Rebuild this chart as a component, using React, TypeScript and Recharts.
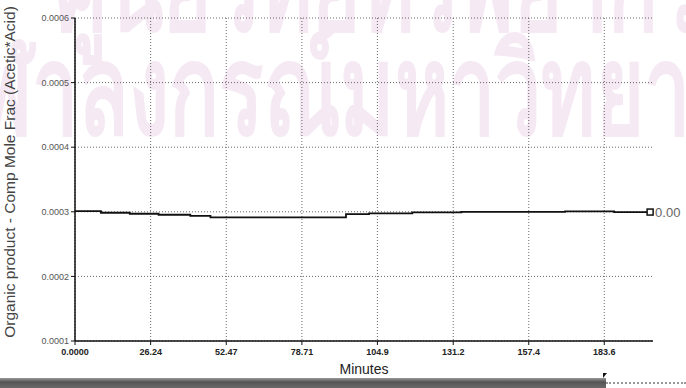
import React from 'react';
import { LineChart, Line, XAxis, YAxis, CartesianGrid } from 'recharts';

// time (min) where each step of the trace starts
const minutes = [0, 9, 19, 29, 40, 47, 94, 102, 117, 134, 170, 187, 199.5];
// organic product mole fraction (acetic acid)
const moleFrac = [
  0.000301, 0.0002985, 0.000297, 0.0002954, 0.0002938, 0.0002915, 0.0002965,
  0.0002975, 0.000299, 0.0003, 0.0003008, 0.0002996, 0.0002996,
];
const xTicks = [0, 26.24, 52.47, 78.71, 104.9, 131.2, 157.4, 183.6];
const xTickLabels = ['0.0000', '26.24', '52.47', '78.71', '104.9', '131.2', '157.4', '183.6'];
const yTicks = [0.0001, 0.0002, 0.0003, 0.0004, 0.0005, 0.0006];
const endLabel = '0.00';

const data = minutes.map((m, i) => ({ t: m, v: moleFrac[i] }));

const EndDot = (props: any) => {
  const { cx, cy, index } = props;
  if (index !== data.length - 1) return <g key={`d-${index}`} />;
  return (
    <g key={`d-${index}`}>
      <rect x={cx - 3} y={cy - 3} width={6} height={6} fill="#fff" stroke="#111" strokeWidth={1.5} />
      <text x={cx + 5} y={cy + 5} fontSize={13} fill="#666" fontFamily="Liberation Sans, Arial">{endLabel}</text>
    </g>
  );
};

const SX = 0.66; // watermark horizontal squeeze

const App = () => {
  return (
    <div style={{ position: 'absolute', left: 0, top: 0, width: 686, height: 388, background: '#fff', overflow: 'hidden', fontFamily: 'Liberation Sans, Arial, sans-serif' }}>
      {/* faded scan watermark */}
      <svg width={686} height={388} style={{ position: 'absolute', left: 0, top: 0 }}>
        <g transform={`scale(${SX} 1)`} fill="#f5e9f4" fontSize={125} fontWeight={700}>
          <text x={55 / SX} y={30}>ศูนย์วิทยทรัพยากร</text>
          <text x={-72 / SX} y={134}>จุฬาลงกรณ์มหาวิทยาลัย</text>
        </g>
      </svg>
      <div style={{ position: 'absolute', left: 0, top: 0 }}>
        <LineChart width={686} height={388} data={data} margin={{ top: 18, right: 33, bottom: 0, left: 0 }}>
          <CartesianGrid stroke="#444" strokeDasharray="1 2" strokeWidth={0.8} verticalValues={xTicks} horizontalValues={yTicks} />
          <XAxis
            dataKey="t"
            type="number"
            domain={[0, 200.5]}
            ticks={xTicks}
            tickFormatter={(v: number) => xTickLabels[xTicks.indexOf(v)] ?? String(v)}
            height={47}
            axisLine={{ stroke: '#111', strokeWidth: 1.5 }}
            tickLine={{ stroke: '#111' }}
            tickSize={4}
            tick={{ fontSize: 9, fill: '#222', fontWeight: 700, dy: 2 }}
            label={{
              position: 'insideBottom',
              content: () => (
                <text x={364} y={374} textAnchor="middle" fontSize={14} fill="#222">Minutes</text>
              ),
            }}
          />
          <YAxis
            type="number"
            domain={[0.0001, 0.0006]}
            ticks={yTicks}
            tickFormatter={(v: number) => v.toFixed(4)}
            width={75}
            axisLine={{ stroke: '#111', strokeWidth: 1.5 }}
            tickLine={{ stroke: '#111' }}
            tickSize={4}
            tick={{ fontSize: 9, fill: '#555' }}
            label={{
              position: 'insideLeft',
              content: () => (
                <text x={15} y={172} transform="rotate(-90, 15, 172)" textAnchor="middle" fontSize={15.5} fill="#444">
                  Organic product - Comp Mole Frac (Acetic*Acid)
                </text>
              ),
            }}
          />
          <Line
            type="stepAfter"
            dataKey="v"
            stroke="#111"
            strokeWidth={1.8}
            dot={<EndDot />}
            activeDot={false}
            isAnimationActive={false}
          />
        </LineChart>
      </div>
      {/* scroll bar at the bottom of the scan */}
      <div style={{ position: 'absolute', left: 0, top: 378, width: 606, height: 10, background: 'linear-gradient(#9a9a9a, #555 40%, #6a6a6a)' }} />
      <div style={{ position: 'absolute', left: 606, top: 382, width: 80, height: 0, borderTop: '2px dotted #999' }} />
      <div style={{ position: 'absolute', left: 603, top: 373, width: 0, height: 0, borderLeft: '4px solid #111', borderBottom: '5px solid transparent' }} />
    </div>
  );
};

export default App;
